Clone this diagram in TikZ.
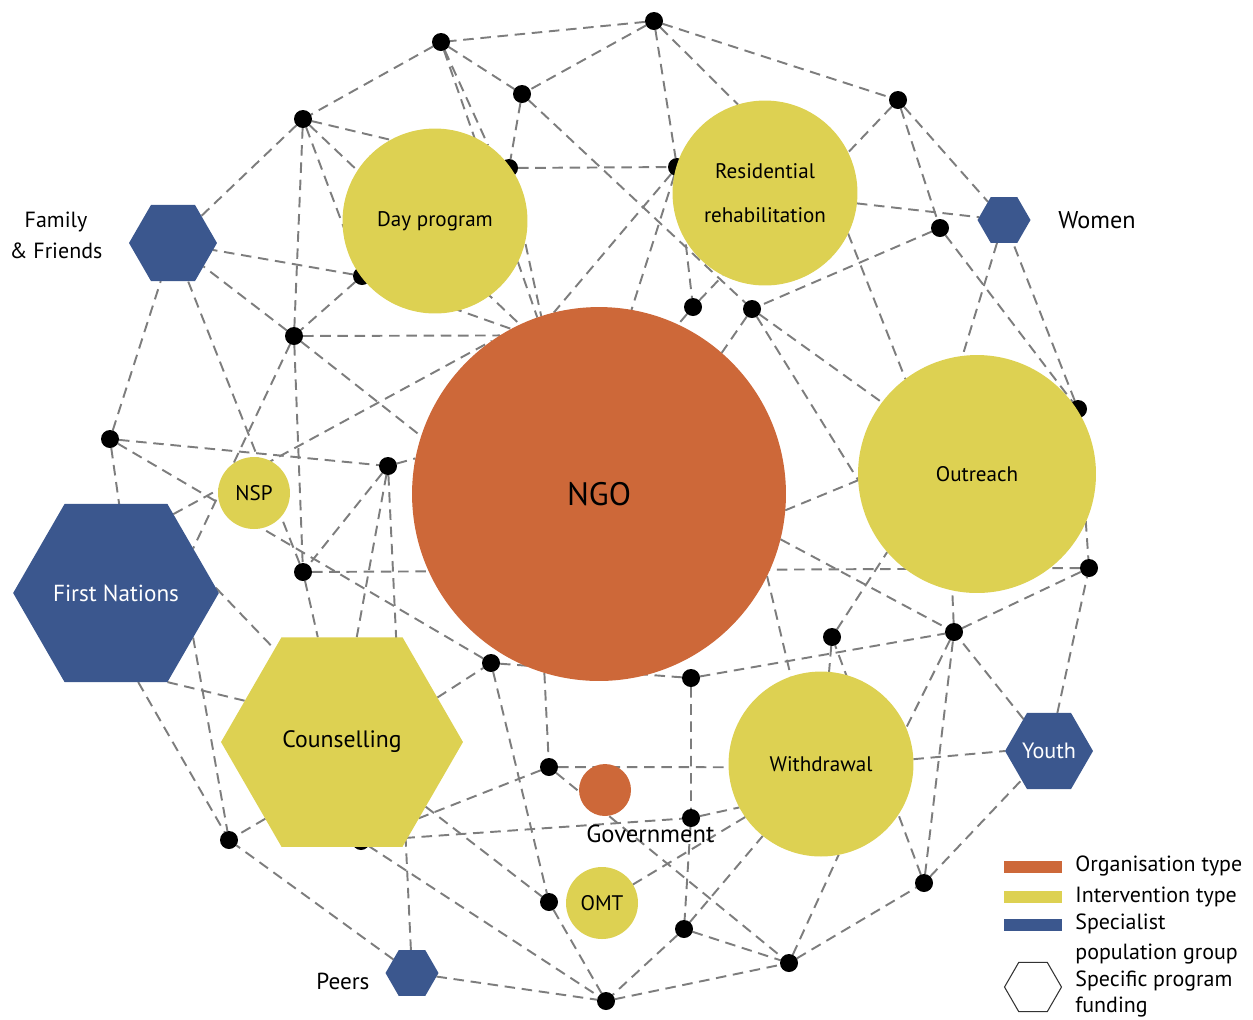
\documentclass[tikz,border=0pt]{standalone}
\usepackage{fontspec}
\setmainfont{PT Sans}
\usetikzlibrary{shapes.geometric,backgrounds}
\definecolor{ngoorange}{RGB}{205,104,57}
\definecolor{ivyellow}{RGB}{221,209,82}
\definecolor{popblue}{RGB}{59,87,142}
\definecolor{linkgray}{RGB}{125,125,125}

\tikzset{
  netlink/.style={draw=linkgray, line width=1.1pt, dash pattern=on 6pt off 3.8pt},
  hub/.style={circle, fill=black, inner sep=0pt, outer sep=0pt, minimum size=0.36cm},
  org/.style={circle, fill=ngoorange, inner sep=0pt, outer sep=0pt},
  interv/.style={circle, fill=ivyellow, inner sep=0pt, outer sep=0pt, font=\fontsize{12}{14}\selectfont},
  hexa/.style={regular polygon, regular polygon sides=6, inner sep=0pt, outer sep=0pt},
  popgroup/.style={hexa, fill=popblue, text=white},
  sidelabel/.style={inner sep=0pt, font=\fontsize{12.5}{17.6}\selectfont},
  keybar/.style={minimum width=1.16cm, minimum height=0.24cm, inner sep=0pt},
}

\begin{document}
\begin{tikzpicture}[x=0.02cm, y=-0.02cm]
    \useasboundingbox (0,0) rectangle (1253,1019);

    % junction dots
    \node[hub] (d1) at (654,21) {};
    \node[hub] (d2) at (441,42) {};
    \node[hub] (d3) at (522,94) {};
    \node[hub] (d4) at (898,100) {};
    \node[hub] (d5) at (303,119) {};
    \node[hub] (d6) at (509,168) {};
    \node[hub] (d7) at (677,167) {};
    \node[hub] (d8) at (940,228) {};
    \node[hub] (d9) at (362,276) {};
    \node[hub] (d10) at (294,336) {};
    \node[hub] (d11) at (693,307) {};
    \node[hub] (d12) at (752,309) {};
    \node[hub] (d13) at (110,439) {};
    \node[hub] (d14) at (388,466) {};
    \node[hub] (d15) at (1078,409) {};
    \node[hub] (d16) at (303,572) {};
    \node[hub] (d17) at (1089,568) {};
    \node[hub] (d18) at (954,632) {};
    \node[hub] (d19) at (832,637) {};
    \node[hub] (d20) at (491,663) {};
    \node[hub] (d21) at (691,678) {};
    \node[hub] (d22) at (549,767) {};
    \node[hub] (d23) at (691,818) {};
    \node[hub] (d24) at (229,840) {};
    \node[hub] (d25) at (361,841) {};
    \node[hub] (d26) at (924,883) {};
    \node[hub] (d27) at (549,902) {};
    \node[hub] (d28) at (684,929) {};
    \node[hub] (d29) at (789,963) {};
    \node[hub] (d30) at (606,1001) {};

    % organisations and interventions
    \node[org, minimum size=7.48cm, font=\fontsize{18.5}{20}\selectfont] (ngo) at (599,494) {NGO};
    \node[interv, minimum size=3.7cm] (day) at (435,221) {Day program};
    \node[interv, minimum size=3.7cm, align=center, font=\fontsize{12}{25}\selectfont] (resi) at (765,193) {Residential\\rehabilitation};
    \node[interv, minimum size=4.76cm] (outr) at (977,474) {Outreach};
    \node[interv, minimum size=3.7cm] (withd) at (821,764) {Withdrawal};
    \node[interv, minimum size=1.44cm] (nsp) at (254,493) {NSP};
    \node[interv, minimum size=1.44cm] (omt) at (602,903) {OMT};
    \node[org, minimum size=1.04cm] (gov) at (605,790) {};
    \node[hexa, fill=ivyellow, minimum size=4.84cm, font=\fontsize{13.5}{16}\selectfont] (couns) at (342,742) {Counselling};

    % population groups
    \node[popgroup, minimum size=4.04cm, font=\fontsize{13.2}{15}\selectfont] (fn) at (116,593) {First Nations};
    \node[popgroup, minimum size=1.76cm] (ff) at (173,243) {};
    \node[popgroup, minimum size=1.06cm] (women) at (1004,220) {};
    \node[popgroup, minimum size=1.76cm, font=\fontsize{12.6}{14}\selectfont] (youth) at (1049,751) {Youth};
    \node[popgroup, minimum size=1.06cm] (peers) at (412,973) {};

    \node[sidelabel, align=center] (fflabel) at (56,235) {Family\\\& Friends};
    \node[sidelabel, anchor=base west, font=\fontsize{13.8}{16}\selectfont] (womenlabel) at (1058,228) {Women};
    \node[sidelabel, anchor=base west, font=\fontsize{13.2}{16}\selectfont] (peerslabel) at (316,989) {Peers};
    \node[sidelabel, anchor=base west, font=\fontsize{14}{16}\selectfont] (govlabel) at (586,842) {Government};

    % links
    \begin{pgfonlayer}{background}
    \draw[netlink] (d1) -- (d2) (d1) -- (d3) (d1) -- (d4) (d1) -- (d7) (d1) -- (resi.107);
    \draw[netlink] (d2) -- (d3) (d2) -- (d5) (d2) -- (ngo) (d2) -- (day.55);
    \draw[netlink] (d3) -- (d6) (d3) -- (d12);
    \draw[netlink] (d4) -- (resi.26) (d4) -- (d8) (d4) -- (women);
    \draw[netlink] (d5) -- (ff) (d5) -- (d10) (d5) -- (d6) (d5) -- (d9) (d5) -- (ngo.115);
    \draw[netlink] (d6) -- (d7) (d6) -- (ngo.108);
    \draw[netlink] (d7) -- (d11) (d7) -- (ngo.104) (d7) -- (ngo.80);
    \draw[netlink] (d8) -- (d12) (d8) -- (d15);
    \draw[netlink] (d9) -- (ff) (d9) -- (d10) (d9) -- (ngo.118);
    \draw[netlink] (d10) -- (ff) (d10) -- (d16) (d10) -- (ngo.122) (d10) -- (ngo.162) (d10) -- (fn.30);
    \draw[netlink] (d11) -- (resi.243) (d11) -- (ngo.65);
    \draw[netlink] (d12) -- (ngo.49) (d12) -- (outr.143) (d12) -- (outr.183);
    \draw[netlink] (d13) -- (ff) (d13) -- (d14) (d13) -- (d20) (d13) -- (fn.88);
    \draw[netlink] (d14) -- (d16) (d14) -- (couns.82) (d14) -- (peers) (d14) -- (ngo.169);
    \draw[netlink] (d15) -- (d17) (d15) -- (women);
    \draw[netlink] (d16) -- (ff) (d16) -- (d17) (d16) -- (couns.103);
    \draw[netlink] (fn.54) -- (ngo.125) (fn.3) -- (couns.126) (fn.300) -- (couns.157)
        (fn.284) -- (d24) (fn.330) -- (d24);
    \draw[netlink] (couns.25) -- (d20) (couns) -- (d27) (couns.225) -- (d24);
    \draw[netlink] (d20) -- (d27) (d20) -- (d21);
    \draw[netlink] (ngo.253) -- (d22) (ngo.346) -- (d18) (ngo.355) -- (outr.183) (ngo.334) -- (withd.109);
    \draw[netlink] (d22) -- (withd.182) (d22) -- (d29) (d22) -- (d25);
    \draw[netlink] (d25) -- (d23) (d25) -- (d30);
    \draw[netlink] (d21) -- (d23) (d21) -- (d18);
    \draw[netlink] (d23) -- (withd.208) (d23) -- (d28);
    \draw[netlink] (d28) -- (d30) (d28) -- (d29) (d28) -- (withd.231);
    \draw[netlink] (omt) -- (withd.215);
    \draw[netlink] (d27) -- (d30);
    \draw[netlink] (peers) -- (d30) (peers) -- (d24);
    \draw[netlink] (d30) -- (d29);
    \draw[netlink] (d29) -- (withd.281) (d29) -- (d26);
    \draw[netlink] (d26) -- (d18) (d26) -- (youth) (d26) -- (d19);
    \draw[netlink] (withd.3) -- (youth.180);
    \draw[netlink] (youth) -- (d17) (youth) -- (d18);
    \draw[netlink] (d18) -- (withd.23) (d18) -- (d17) (d18) -- (outr.258);
    \draw[netlink] (d19) -- (outr.221) (d19) -- (withd.85);
    \draw[netlink] (resi.334) -- (outr.127) (resi) -- (women);
    \draw[netlink] (women) -- (outr.97);
    \end{pgfonlayer}

    % legend
    \node[keybar, fill=ngoorange] (keyorg) at (1033,867) {};
    \node[keybar, fill=ivyellow] (keyint) at (1033,897) {};
    \node[keybar, fill=popblue] (keypop) at (1033,925) {};
    \node[hexa, draw=black!80, line width=0.6pt, minimum size=1.14cm] (keyfund) at (1033,987) {};
    \node[sidelabel, anchor=base west] at (1075,871) {Organisation type};
    \node[sidelabel, anchor=base west] at (1075,902) {Intervention type};
    \node[sidelabel, anchor=base west] at (1075,929) {Specialist};
    \node[sidelabel, anchor=base west] at (1075,959) {population group};
    \node[sidelabel, anchor=base west] at (1075,986) {Specific program};
    \node[sidelabel, anchor=base west] at (1075,1012) {funding};
\end{tikzpicture}
\end{document}
